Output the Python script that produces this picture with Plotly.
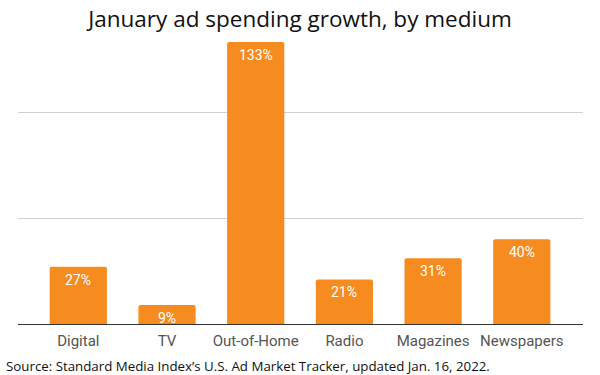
import plotly.graph_objects as go

categories = ["Digital", "TV", "Out-of-Home", "Radio", "Magazines", "Newspapers"]
growth_pct = [27, 9, 133, 21, 31, 40]
labels = [f"{v}%" for v in growth_pct]

BAR = "#F68B1F"

fig = go.Figure(go.Bar(
    x=categories, y=growth_pct,
    marker=dict(color=BAR, line=dict(width=0), cornerradius=2),
    width=0.645,
    hoverinfo="skip",
))

for c, v, t in zip(categories, growth_pct, labels):
    fig.add_annotation(x=c, y=v, text=t, showarrow=False, yanchor="top", yshift=-3,
                       font=dict(family="Roboto", size=14, color="white"))

fig.add_annotation(xref="paper", yref="paper", x=0, y=0, xanchor="left", yanchor="top",
                   xshift=-14, yshift=-31,
                   text="Source: Standard Media Index’s U.S. Ad Market Tracker, updated Jan. 16, 2022.",
                   showarrow=False, font=dict(family="Open Sans", size=13.3, color="#111"))

fig.update_layout(
    width=600, height=375,
    margin=dict(l=18, r=17, t=30, b=51),
    paper_bgcolor="white", plot_bgcolor="white",
    title=dict(text="January ad spending growth, by medium", x=0.5, xanchor="center",
               y=0.969, yanchor="top",
               font=dict(family="Open Sans", size=22.5, color="#111")),
    xaxis=dict(range=[-0.68, 5.69], showgrid=False, showline=True, linecolor="#333", linewidth=1,
               ticks="", tickfont=dict(family="Roboto", size=15, color="#555"),
               ticklabelstandoff=3, fixedrange=True),
    yaxis=dict(range=[0, 138.7], tickvals=[0, 50, 100], showticklabels=False,
               showgrid=True, gridcolor="#d0d0d0", gridwidth=1, zeroline=False,
               showline=False, fixedrange=True),
    showlegend=False,
    bargap=0.35,
)

fig.write_html("out.html", config={"displayModeBar": False},
               post_script="document.body.style.margin='0';document.body.style.padding='0';")
